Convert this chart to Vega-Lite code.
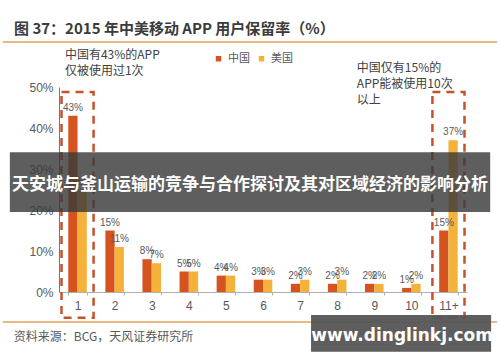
{
  "$schema": "https://vega.github.io/schema/vega-lite/v6.json",
  "width": 408,
  "height": 205,
  "autosize": {"type": "none"},
  "padding": {"left": 59, "top": 87, "right": 33, "bottom": 70},
  "background": "white",
  "config": {"font": "Noto Sans CJK SC", "view": {"stroke": null}},
  "title": {"text": "图 37：2015 年中美移动 APP 用户保留率（%）", "anchor": "start", "frame": "group", "dx": -45, "offset": 4, "fontSize": 15, "fontWeight": "bold", "color": "#3b3b3b"},
  "data": {"values": [
    {"cat": "1", "country": "中国", "v": 43}, {"cat": "1", "country": "美国", "v": 25},
    {"cat": "2", "country": "中国", "v": 15}, {"cat": "2", "country": "美国", "v": 11},
    {"cat": "3", "country": "中国", "v": 8}, {"cat": "3", "country": "美国", "v": 7},
    {"cat": "4", "country": "中国", "v": 5}, {"cat": "4", "country": "美国", "v": 5},
    {"cat": "5", "country": "中国", "v": 4}, {"cat": "5", "country": "美国", "v": 4},
    {"cat": "6", "country": "中国", "v": 3}, {"cat": "6", "country": "美国", "v": 3},
    {"cat": "7", "country": "中国", "v": 2}, {"cat": "7", "country": "美国", "v": 3},
    {"cat": "8", "country": "中国", "v": 2}, {"cat": "8", "country": "美国", "v": 3},
    {"cat": "9", "country": "中国", "v": 2}, {"cat": "9", "country": "美国", "v": 2},
    {"cat": "10", "country": "中国", "v": 1}, {"cat": "10", "country": "美国", "v": 2},
    {"cat": "11+", "country": "中国", "v": 15}, {"cat": "11+", "country": "美国", "v": 37}
  ]},
  "layer": [
    {
      "mark": {"type": "bar"},
      "encoding": {
        "x": {"field": "cat", "type": "nominal", "sort": ["1","2","3","4","5","6","7","8","9","10","11+"],
              "scale": {"paddingInner": 0.5, "paddingOuter": 0.25},
              "axis": {"title": null, "labelAngle": 0, "tickBand": "extent", "tickSize": 3, "tickColor": "#b0b0b0", "domainColor": "#b0b0b0", "labelColor": "#595959", "labelFontSize": 12, "labelPadding": 5, "labelFont": "Liberation Sans"}},
        "xOffset": {"field": "country", "type": "nominal", "sort": ["中国", "美国"]},
        "y": {"field": "v", "type": "quantitative", "scale": {"domain": [0, 50]},
              "axis": {"title": null, "grid": false, "ticks": false, "values": [0,5,10,15,20,25,30,35,40,45,50], "labelExpr": "datum.value + '%'", "domainColor": "#777777", "labelColor": "#595959", "labelFontSize": 12, "labelPadding": 6, "labelFont": "Liberation Sans"}},
        "color": {"field": "country", "type": "nominal", "sort": ["中国", "美国"],
                  "scale": {"domain": ["中国", "美国"], "range": ["#d4531f", "#f4b23a"]},
                  "legend": {"title": null, "orient": "none", "legendX": 154, "legendY": -34, "direction": "horizontal", "symbolType": "square", "symbolSize": 30, "labelFontSize": 11, "labelColor": "#595959", "columnPadding": 6, "symbolStrokeWidth": 0}}
      }
    },
    {
      "transform": [{"calculate": "datum.v + '%'", "as": "lbl"}],
      "mark": {"type": "text", "baseline": "bottom", "dy": -3, "fontSize": 10, "color": "#595959", "font": "Liberation Sans"},
      "encoding": {
        "x": {"field": "cat", "type": "nominal", "sort": ["1","2","3","4","5","6","7","8","9","10","11+"]},
        "xOffset": {"field": "country", "type": "nominal", "sort": ["中国", "美国"]},
        "y": {"field": "v", "type": "quantitative"},
        "text": {"field": "lbl"}
      }
    },
    {
      "data": {"values": [{"cat": "1"}, {"cat": "11+"}]},
      "mark": {"type": "bar", "filled": false, "fill": null, "stroke": "#c4532b", "strokeWidth": 2.5, "strokeDash": [8, 6], "width": {"band": 1.73}, "clip": false},
      "encoding": {
        "x": {"field": "cat", "type": "nominal", "sort": ["1","2","3","4","5","6","7","8","9","10","11+"]},
        "y": {"datum": 48.8},
        "y2": {"datum": -6.3}
      }
    },
    {
      "data": {"values": [{}]},
      "mark": {"type": "text", "align": "left", "baseline": "top", "fontSize": 12, "color": "#404040", "lineHeight": 16},
      "encoding": {
        "x": {"datum": "1", "bandPosition": -0.18},
        "y": {"datum": 59},
        "text": {"value": ["中国有43%的APP", "仅被使用过1次"]}
      }
    },
    {
      "data": {"values": [{}]},
      "mark": {"type": "text", "align": "left", "baseline": "top", "fontSize": 12, "color": "#404040", "lineHeight": 16},
      "encoding": {
        "x": {"datum": "9", "bandPosition": -0.44},
        "y": {"datum": 55.9},
        "text": {"value": ["中国仅有15%的", "APP能被使用10次", "以上"]}
      }
    },
    {
      "data": {"values": [{}]},
      "mark": {"type": "rule", "color": "#e0a35a", "strokeWidth": 1.5, "clip": false},
      "encoding": {
        "x": {"datum": "1", "bandPosition": -3.53},
        "x2": {"datum": "11+", "bandPosition": 3.12},
        "y": {"datum": 61}
      }
    },
    {
      "data": {"values": [{}]},
      "mark": {"type": "rule", "color": "#e0a35a", "strokeWidth": 1.5, "clip": false},
      "encoding": {
        "x": {"datum": "1", "bandPosition": -3.53},
        "x2": {"datum": "11+", "bandPosition": 3.12},
        "y": {"datum": -7.3}
      }
    },
    {
      "data": {"values": [{}]},
      "mark": {"type": "text", "align": "left", "baseline": "middle", "fontSize": 12, "color": "#595959"},
      "encoding": {
        "x": {"datum": "1", "bandPosition": -2.94},
        "y": {"datum": -11},
        "text": {"value": "资料来源：BCG，天风证券研究所"}
      }
    },
    {
      "data": {"values": [{}]},
      "mark": {"type": "rect", "color": "#3a3a3a", "opacity": 0.82, "clip": false},
      "encoding": {
        "x": {"datum": "1", "bandPosition": -3.15},
        "x2": {"datum": "11+", "bandPosition": 2.75},
        "y": {"datum": 34.1},
        "y2": {"datum": 19.5}
      }
    },
    {
      "data": {"values": [{}]},
      "mark": {"type": "text", "align": "center", "baseline": "middle", "fontSize": 17, "fontWeight": "bold", "color": "white"},
      "encoding": {
        "x": {"datum": "6", "bandPosition": -0.2},
        "y": {"datum": 26.1},
        "text": {"value": "天安城与釜山运输的竞争与合作探讨及其对区域经济的影响分析"}
      }
    },
    {
      "data": {"values": [{}]},
      "mark": {"type": "rect", "color": "#555555", "opacity": 0.95, "clip": false},
      "encoding": {
        "x": {"datum": "7", "bandPosition": 1.09},
        "x2": {"datum": "11+", "bandPosition": 2.8},
        "y": {"datum": -5.6},
        "y2": {"datum": -14.6}
      }
    },
    {
      "data": {"values": [{}]},
      "mark": {"type": "text", "align": "center", "baseline": "middle", "fontSize": 17, "fontWeight": "bold", "color": "white", "font": "DejaVu Sans"},
      "encoding": {
        "x": {"datum": "10", "bandPosition": 0},
        "y": {"datum": -10.7},
        "text": {"value": "www.dinglinkj.com"}
      }
    }
  ]
}
